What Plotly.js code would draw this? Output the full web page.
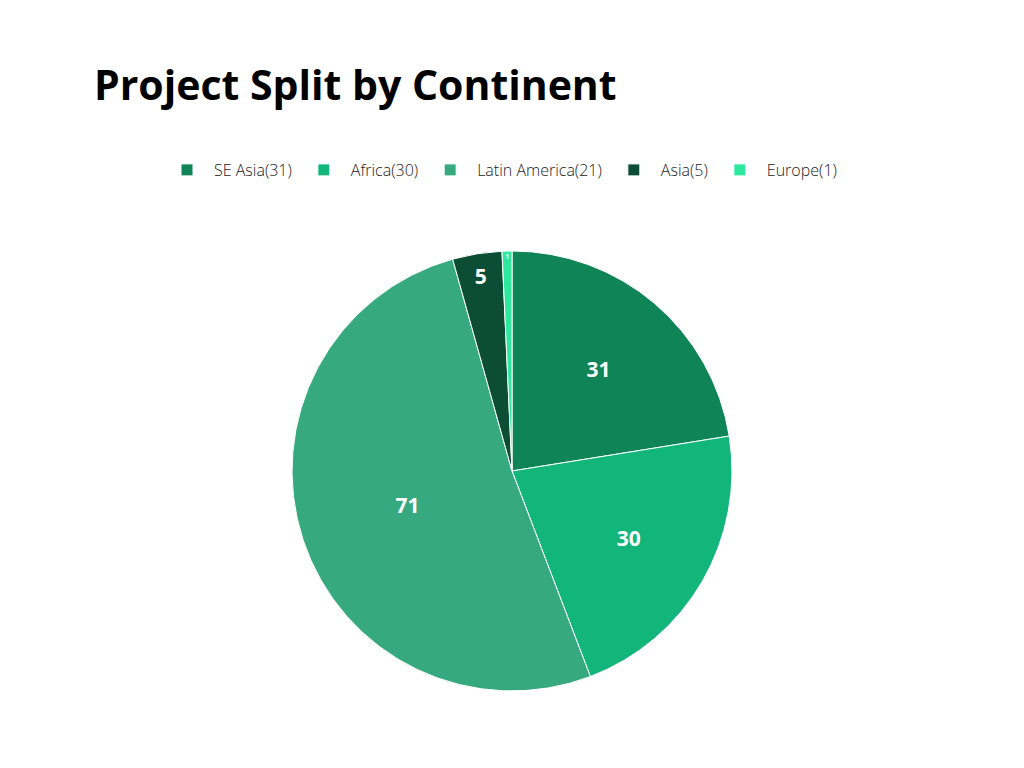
<!DOCTYPE html>
<html>
<head>
<meta charset="utf-8">
<script src="https://cdn.plot.ly/plotly-3.0.1.min.js"></script>
<style>html,body{margin:0;padding:0;background:#fff;}#chart{width:1024px;height:768px;}</style>
</head>
<body>
<div id="chart"></div>
<script>
const categories = ["SE Asia(31)", "Africa(30)", "Latin America(21)", "Asia(5)", "Europe(1)"];
const values = [31, 30, 71, 5, 1];
const colors = ["#0e8457", "#12b57a", "#37a980", "#0b4d35", "#2ee8a0"];

const trace = {
  type: "pie",
  labels: categories,
  values: values,
  sort: false,
  direction: "clockwise",
  rotation: 0,
  textinfo: "value",
  textposition: "inside",
  insidetextorientation: "horizontal",
  textfont: {family: "'Open Sans', Lato, sans-serif", size: 21, color: "#ffffff", weight: "bold"},
  marker: {colors: colors, line: {color: "#ffffff", width: 1}},
  domain: {x: [0, 1], y: [0.1003, 0.6732]},
  hoverinfo: "none"
};

const layout = {
  width: 1024, height: 768,
  margin: {l: 0, r: 0, t: 0, b: 0},
  paper_bgcolor: "#ffffff",
  title: {
    text: "<b>Project Split by Continent</b>",
    x: 94/1024, xanchor: "left", xref: "paper",
    y: 1 - 86/768, yanchor: "middle", yref: "paper",
    font: {family: "'Open Sans', Lato, sans-serif", size: 41, color: "#000000"}
  },
  showlegend: true,
  legend: {
    orientation: "h",
    x: 160/1024, xanchor: "left",
    y: 1 - 170/768, yanchor: "middle",
    font: {family: "'Open Sans', Lato, sans-serif", size: 16, color: "#222222", weight: 300},
    itemwidth: 44,
    traceorder: "normal"
  }
};

Plotly.newPlot("chart", [trace], layout, {displayModeBar: false, staticPlot: true});
</script>
</body>
</html>
